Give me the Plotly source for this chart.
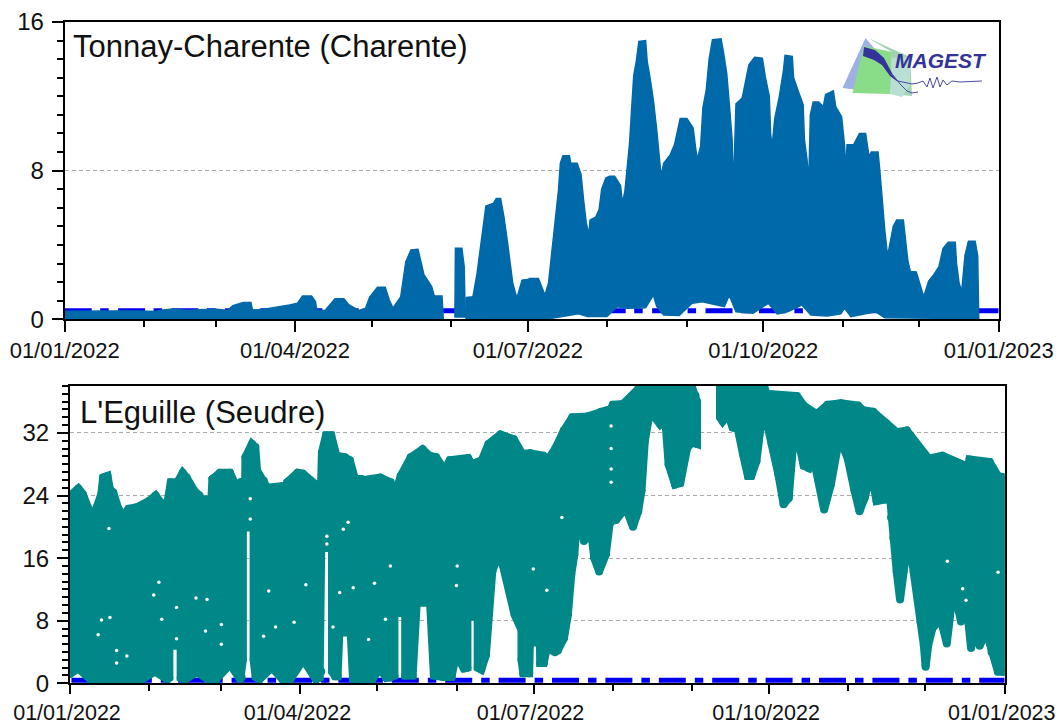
import pandas as pd
import plotly.graph_objects as go

W, H = 1059, 724
START = pd.Timestamp("2022-01-01")

# ---------- Tonnay-Charente: envelope of the tidal signal (read day, value) ----------
top_hi_days = [0,10,14,20,28,35,38,42,47,52,58,63,65,69,72,72.6,77,87,90,92,95.5,97,97.5,100.7,104.6,108,110,114,116.4,118,121,124,125.6,127,130,132,134,136.7,139,142,143,146,146.5,None,
 151,151.2,153.7,154.6,155,None,
 155.3,158,159.6,161,162,163,166,167,168.7,170,171.4,173.4,175,177,180,183,186.5,189,190.4,191.7,193,194.3,195,196,198.5,199,201.5,203,204,205,206,206.5,208.7,210,211,212.6,214,216,218.3,219,220,221,221.8,222.5,223.4,224.4,225.4,228,228.6,229.7,231,232.3,233.2,234,235,237.5,239.2,240.4,241.4,244,246.4,247.3,248,249.3,250.2,251.5,252.6,253.9,257.2,258,259.4,260.4,261.5,262,263,265.4,266.3,268,270.2,273.2,274.4,275.9,276.4,277,278,279.8,281.4,282,284.8,285.3,287.3,289,289.5,290.5,291.2,291.8,292.9,295,296.8,297.7,300.7,301.6,303.9,305,305.6,306,308.6,310.8,313.2,314.5,315.4,318,318.7,319.6,320.6,321.7,322.6,323.9,325.2,327.8,329.5,330.5,332.8,334.4,335.7,337.6,339.6,341.6,343.2,345.2,347.9,348.4,349.4,350.4,351.7,353,355.6,356.6,357]
top_hi_vals = [.43,.45,.42,.45,.44,.42,.5,.55,.48,.52,.55,.47,.73,.9,.9,.5,.54,.77,.86,1.25,1.25,.95,.5,.47,1.1,1.1,.77,.47,.6,1.2,1.72,1.72,1.04,.6,1.2,3.1,3.73,3.77,2.4,1.76,1.27,1.26,.05,None,
 .1,3.82,3.82,2.84,.1,None,
 1.17,1.22,2.48,4.0,5.17,6.1,6.25,6.5,6.5,5.5,4.1,1.94,1.13,2.1,2.15,2.2,2.2,1.3,1.94,3.64,5.5,7.0,8.4,8.8,8.8,8.4,8.4,7.8,6.4,5.2,4.55,5.35,5.5,5.9,7.0,7.6,7.7,7.7,7.2,6.25,6.9,8.4,9.5,11.1,13.1,13.9,14.95,15.0,13.9,13,11.8,10.2,8.76,7.7,8.4,8.85,9.4,10.1,10.8,10.8,10.3,9.3,8.6,9.3,11.4,12.35,14,15.05,15.1,14.5,13.25,11.6,9.66,7,11.6,11.9,12.6,13.7,14.1,14.05,13,12,10,9.3,10.8,12,13.4,14.2,14.15,13,12.2,11.55,9.66,8.6,7.4,11,11.7,11.7,11.45,12.1,12.3,11.45,10.9,9.4,8.0,9.4,9.4,10,10,8.76,9,9,8,6.25,4.8,3.4,4,5,5.35,5.35,3.2,2.57,2.55,1.76,1.22,2.06,2.4,2.84,3.82,4.15,4.15,3,1.94,1.5,3.46,4.2,4.2,3.4,.05]
top_lo_days = [0,146.5,None,151,155,None,155.3,190,202,205.5,213,217,221,228,231,232.3,235,241,246,250,258.5,260.4,263,269.6,275.5,279,283,288.5,292,298.4,303.6,305,307.5,317,320.6,340,357]
top_lo_vals = [.02,.02,None,.12,.12,None,.02,.02,.3,.15,.15,.68,.6,.62,1.3,.7,.23,.2,.86,.95,.68,1.3,.41,.32,.86,.29,.41,.77,.23,.18,.29,.6,.14,.41,.09,.05,.02]

# ---------- L'Eguille: envelope of the marker centres (read day, value) ----------
bot_hi_days = [0,3.1,4.8,7,8,9.4,10,12,12.7,14.4,15.3,16.6,18.6,20.8,22.5,25.8,30.4,33,35,37.3,38.9,41.5,43.5,45,48,50,51.6,52.6,54.6,55,57.9,61.8,64.4,66,67.7,67.8,70.3,71.6,72.3,74.9,76.2,82,83.8,84,88,90,96.5,96.9,97.4,99,101,103,106.3,108.2,110.2,112.2,112.8,113.9,120,124,125.5,127.9,131.8,136.4,139,141.6,144.9,146.9,154,155.4,159.3,161.9,166.5,171.7,175,178,180.8,186,187.6,190.6,193.9,197.2,203,208.3,212.2,212.9,216.8,222.7,224,242.3,244.9,245.5,None,
 254.4,270.5,272.4,284.2,286.8,291.8,296,301.2,307.8,309.7,313.7,318.9,322.8,326.7,330,335.2,340.5,346.4,349.6,350.3,351,358.8,362,365.5]
bot_hi_vals = [24,24.9,24.2,22.3,20.1,19.7,22.3,24.2,26.3,26.5,24.8,24.4,22.3,21.4,22.3,22.5,23.3,24,23.1,22.5,25.7,25.7,26.9,26.3,24.6,24,22.3,23.5,23.5,26.1,26.9,26.9,25,25.7,25.9,28.9,30.6,30.2,27.2,25.9,25,25.2,24.5,25.7,26.9,26.8,25,23.3,29.5,31.7,31.7,29.1,28.9,28.5,26.1,26.1,24.6,26,26.3,25.7,23.8,26.5,28.9,29.9,29.1,28.9,27.3,28.5,28.8,28,28.5,30.6,31.8,31.2,29.3,29.4,29.4,29.1,28.5,30,32.3,34,34.1,34.7,35.1,35.6,35.7,37.6,39,39,36.8,36,None,
 39,39,37,36.7,35.5,34.4,35.6,35.8,35.5,34.9,34.7,33.2,32.1,32.3,30.8,28.7,29.1,28.2,27.8,27,28.6,28.3,26.5,26.3]
# first part of the lower envelope, read in calendar days from tight crops
bot_lo_early_days = [0,3.3,8,28,33.2,38,38.8,38.8,43.2,43.2,45,49.5,54,57,62.5,66.5,67,67.5,67.5,71.7,71.7,72.5,74,78.8,83,86,91.1,96,97.5,98.1,98.1,102.3,102.3,103.5,104.5,105.2,109.6,110.5,114.5,118,121,123.5,125,126.7,126.7,130.9,130.9,132.1,133.8,135.4,140.6,142.1,145.8,149,150.3,152,153.8,155.2,155.2,159.2,159.2,160.6,162.4,164.9,166.5,168.5,171.6,173.6,176.3,176.3,177,179.3,179.6,183.5,183.6,185,186,187.5,189.4,190.5]
bot_lo_early_vals = [1.2,1.9,.5,.5,1.5,.5,.7,4.8,4.8,.7,.5,1.4,.5,.5,2.4,.5,.8,3,19.9,19.9,3,.8,.5,2,.5,.5,3,.5,.7,1.5,17.3,17.3,1.5,.9,.9,6.5,6.5,.6,.5,.5,1.9,.7,.7,1,9,9,1,1,1,10.3,10.3,1,.8,.8,3,3,1.9,2,8.5,8.5,2,1.75,3.6,14.3,15.8,15.8,11.75,8.8,6.8,3,1.3,1.3,5.2,5.2,2.6,2.6,4.3,4.3,4,4.2]
bot_lo_late_days = [194,195.5,196.8,198,199.4,201.7,204.4,205.7,207.6,210.2,211.6,212.2,214.2,216.8,218,220.7,222.7,224,225.3,227.3,231.2,233.2,234.5,237,239,241.7,243.6,245.5,None,
 254.4,255.4,257.4,259.3,261.3,263.3,265.2,266.5,268.5,270.5,272.4,274.4,277,279,281,282.9,284.9,286.8,288.8,290.5,292.7,294.7,297.3,300.6,303.8,306.5,308.4,310.4,312.3,313.7,315,318.2,319.8,320.6,321.5,322.8,324.1,325.4,326.7,328,329.4,331.3,332,333.3,334,335,336.6,339.8,342.2,343.8,346,347.7,349.6,351.6,353.3,354.9,357.5,359.5,362,365.5]
bot_lo_late_vals = [5.8,8.8,13.9,16.5,22.6,18.2,19.7,16,14.3,16.5,20.3,20.7,20.9,22,22.4,20,22,24.6,31,34.8,33.1,33.8,28,25.4,25.6,30.1,30.8,30.6,None,
 34,33.5,34.4,32.7,32.5,29.3,26.5,26.5,28.4,33.8,33.5,30.6,26.7,22.9,23.7,31.4,30.8,27.8,27.5,29,25.9,22.2,25.4,31.4,28.8,24.6,22,23.7,26.3,25.6,23.3,23.5,25.4,21.2,18.6,14.3,10.7,14.3,17.3,17.5,14.3,10.9,7.9,4.9,2.1,4.9,7,8.3,5.1,9.6,10.5,7.9,10.9,4.5,7.5,4.8,6.6,4,1.5,1.4]
# small holes left between the points (calendar day, value)
void_days = [12.3,15.6,11,18.2,22.2,18.2,15.2,34.7,32.7,35.8,41.6,41.6,53.5,49.2,52.9,59.1,59.1,77.6,92.1,87.5,80.3,75.6,102.7,105.3,108.6,106.7,110.6,118.9,123.2,116.6,125.1,151.2,150.9,70.4,70.4,100.3,100.3,186.2,180.9,192.1,211.3,211.3,211.3,211.3,362.4,348.6,349.9,342.6]
void_vals = [8.1,8.4,6.2,4.2,3.5,2.6,19.8,12.9,11.3,8.2,9.7,5.7,10.7,10.9,6.7,7.5,5,11.8,12.6,7.8,7.2,6,7.2,11.6,20.6,19.7,12.2,12.8,8.2,5.6,15,15,12.5,23.6,21,17.8,18.8,11.9,14.6,21.2,32.9,30,27.4,25.7,14.2,12.1,10.6,15.6]

# ---------- threshold lines ----------
threshold_days = [0, 365]
top_threshold = [0.46, 0.46]
bot_threshold = [0.38, 0.38]

top_color = "#0069A9"
bot_color = "#008787"
blue = "#0000F0"
tick_labels_fmt = "%d/%m/%Y"


def read_top(d):
    """Correct the scale of the first readings of the upper panel."""
    if d is None:
        return None
    return 1.0092 * d + 0.1 if d < 181.5 else 181.8 + (d - 183.2) * 1.0092


def read_bot(d):
    """Correct the scale of the first readings of the lower panel."""
    if d is None:
        return None
    return 1.0086 * d + 0.13 if d < 179.5 else 179.6 + (d - 180.8) * 1.0086


def segments(days, vals):
    out, cur = [], []
    for d, v in zip(days, vals):
        if d is None:
            out.append(cur); cur = []
        else:
            cur.append((d, v))
    out.append(cur)
    return out


def outline(hd, hv, ld, lv):
    xs, ys = [], []
    for hi, lo in zip(segments(hd, hv), segments(ld, lv)):
        ring = hi + lo[::-1] + hi[:1]
        xs += [START + pd.Timedelta(days=d) for d, _ in ring] + [None]
        ys += [v for _, v in ring] + [None]
    return xs, ys


def dates(days):
    return [START + pd.Timedelta(days=d) for d in days]


def px(x, y):
    return x / W, 1 - y / H


def path(points, close=True):
    pts = [px(*p) for p in points]
    s = "M" + " L".join(f"{a:.5f},{b:.5f}" for a, b in pts)
    return s + (" Z" if close else "")


fig = go.Figure()
fig.add_trace(go.Scatter(x=dates(threshold_days), y=top_threshold, mode="lines", hoverinfo="skip", showlegend=False,
                         line=dict(color=blue, width=5, dash="27px,8.5px,8.5px,9.4px"), xaxis="x", yaxis="y"))
tx, ty = outline([read_top(d) for d in top_hi_days], top_hi_vals, [read_top(d) for d in top_lo_days], top_lo_vals)
fig.add_trace(go.Scatter(x=tx, y=ty, mode="lines", fill="toself", fillcolor=top_color, hoverinfo="skip", showlegend=False,
                         line=dict(color=top_color, width=1.5), xaxis="x", yaxis="y"))
fig.add_trace(go.Scatter(x=dates(threshold_days), y=bot_threshold, mode="lines", hoverinfo="skip", showlegend=False,
                         line=dict(color=blue, width=5, dash="0px,1.4px,27px,9px,8.5px,7.5px"), xaxis="x2", yaxis="y2"))
bx, by = outline([read_bot(d) for d in bot_hi_days], bot_hi_vals,
                 bot_lo_early_days + [read_bot(d) for d in bot_lo_late_days], bot_lo_early_vals + bot_lo_late_vals)
fig.add_trace(go.Scatter(x=bx, y=by, mode="lines+markers", fill="toself", fillcolor=bot_color, hoverinfo="skip", showlegend=False,
                         line=dict(color=bot_color, width=8), marker=dict(color=bot_color, size=8), xaxis="x2", yaxis="y2"))
fig.add_trace(go.Scatter(x=dates(void_days), y=void_vals, mode="markers", hoverinfo="skip", showlegend=False,
                         marker=dict(color="white", size=3.5, line=dict(width=0)), xaxis="x2", yaxis="y2"))

xcommon = dict(type="date", range=["2022-01-01", "2023-01-01"], dtick="M3", tick0="2022-01-01", tickformat=tick_labels_fmt,
               ticks="outside", ticklen=10.5, tickwidth=2, tickcolor="black", showgrid=False, zeroline=False, automargin=False,
               showline=True, linecolor="black", linewidth=2, mirror=True, ticklabelmode="instant",
               tickfont=dict(family="Liberation Sans", size=22, color="#111"),
               minor=dict(dtick="M1", tick0="2022-01-01", ticks="outside", ticklen=6, tickwidth=2, tickcolor="black", showgrid=False))
ycommon = dict(dtick=8, tick0=0, ticks="outside", ticklen=11, tickwidth=2, tickcolor="black", showline=True, linecolor="black",
               linewidth=2, mirror=True, zeroline=False, showgrid=True, gridcolor="#ababab", gridwidth=1, griddash="4px,3px",
               automargin=False, ticklabelstandoff=3, tickfont=dict(family="Liberation Sans", size=24, color="#111"),
               minor=dict(dtick=1, tick0=0, ticks="outside", ticklen=6, tickwidth=2, tickcolor="black", showgrid=False))

logo_shapes = [
    ([(865.5, 38), (842.5, 88), (874, 92), (910, 90), (880, 55)], "#9DB2E2"),
    ([(864, 46), (852.5, 93), (890, 94), (892, 52)], "#8ADD88"),
    ([(868, 38), (892, 52), (890, 94), (912, 96), (910, 57)], "#A2D2B4"),
    ([(892, 58), (910, 57), (910, 85), (902, 97), (890, 94)], "#B9DFD2"),
    ([(864, 47), (875, 50), (884, 58), (893, 75), (898, 82), (890, 76), (882, 65), (874, 60), (863, 56)], "#333399"),
]
shapes = [dict(type="path", xref="paper", yref="paper", path=path(p), fillcolor=c, line=dict(width=0), layer="above")
          for p, c in logo_shapes]
wiggle = [(890, 73), (898, 81), (912, 84), (918, 83), (923, 81), (927, 87), (930, 78), (933, 88), (937, 77), (940, 87), (943, 80), (947, 85), (952, 81), (960, 82), (982, 81)]
lower_curve = [(893, 75), (900, 84), (907, 91), (912, 93), (918, 92)]
for pts in (wiggle, lower_curve):
    shapes.append(dict(type="path", xref="paper", yref="paper", path=path(pts, close=False), line=dict(color="#4A4AA8", width=1), layer="above"))

annotations = [
    dict(text="Tonnay-Charente (Charente)", x=px(71, 0)[0], y=px(0, 47)[1]),
    dict(text="L'Eguille (Seudre)", x=px(77.5, 0)[0], y=px(0, 412)[1]),
]
annotations = [dict(a, xref="paper", yref="paper", xanchor="left", yanchor="middle", showarrow=False,
                    font=dict(family="Liberation Sans", size=31, color="#111")) for a in annotations]
annotations.append(dict(text="<b><i>MAGEST</i></b>", xref="paper", yref="paper", x=px(941, 0)[0], y=px(0, 61)[1], xanchor="center", yanchor="middle",
                        showarrow=False, font=dict(family="Liberation Sans", size=21, color="#333399")))

fig.update_layout(
    width=W, height=H, margin=dict(l=0, r=0, t=0, b=0), paper_bgcolor="white", plot_bgcolor="white", showlegend=False,
    xaxis=dict(xcommon, domain=[64.7 / W, 998.7 / W], anchor="y"),
    yaxis=dict(ycommon, domain=[1 - 319.3 / H, 1 - 22 / H], range=[0, 16], anchor="x"),
    xaxis2=dict(xcommon, domain=[70 / W, 1004.7 / W], anchor="y2", ticklen=8.5, ticklabelshift=-3,
                tickfont=dict(family="Liberation Sans", size=21.5, color="#111")),
    yaxis2=dict(ycommon, domain=[1 - 683.3 / H, 1 - 386 / H], range=[0, 38], anchor="x2"),
    shapes=shapes, annotations=annotations,
)
fig.write_html("out.html", config={"displayModeBar": False},
               post_script="document.body.style.margin='0';document.body.style.overflow='hidden';")
